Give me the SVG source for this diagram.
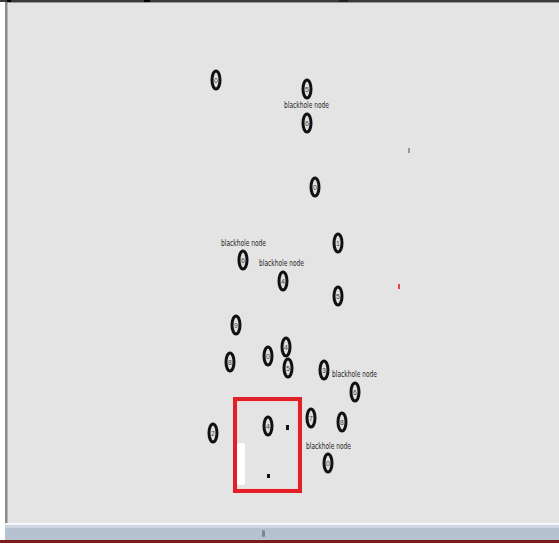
<svg xmlns="http://www.w3.org/2000/svg" width="559" height="544" viewBox="0 0 559 544">
<style>
.n{fill:#e0e0e0;stroke:#111;stroke-width:3}
.d{font-family:"Liberation Sans",Arial,sans-serif;font-size:7px;fill:#444;text-anchor:middle}
.bh{font-family:"DejaVu Sans Condensed","Liberation Sans",sans-serif;font-size:9.5px;fill:#1e1e1e}
</style>
<defs>
<g id="nd"><ellipse class="n" cx="0" cy="0" rx="4" ry="9"/></g>
</defs>
<rect x="0" y="0" width="559" height="544" fill="#ffffff"/>
<rect x="5" y="2" width="554" height="521" fill="#e4e4e4"/>
<rect x="0" y="0" width="559" height="2" fill="#3a3a3a"/>
<rect x="7" y="0" width="4" height="3" fill="#000"/>
<rect x="144" y="0" width="6" height="3" fill="#000"/>
<rect x="339" y="0" width="9" height="3" fill="#222"/>
<rect x="5" y="2" width="554" height="1" fill="#9a9a9a"/>
<rect x="5" y="2" width="2.5" height="522" fill="#8a8a8a"/>
<rect x="5" y="523" width="554" height="2" fill="#f4f6f8"/>
<rect x="5" y="525" width="554" height="15" fill="#b6c2d0"/>
<rect x="5" y="525" width="554" height="3" fill="#cdd6e0"/>
<rect x="262" y="530" width="3" height="7" rx="1.5" fill="#7a8594"/>
<rect x="0" y="540" width="559" height="3" fill="#7a1a1a"/>
<g id="connectors"/>
<g id="marks">
<rect x="408" y="148" width="2" height="5" fill="#9a9a9a"/>
<rect x="398" y="284" width="2" height="5" fill="#e04050"/>
</g>
<g id="selection">
<rect x="235" y="399" width="65" height="92" fill="none" stroke="#e01f26" stroke-width="4"/>
<rect x="237.5" y="401.5" width="60" height="87" fill="none" stroke="#f4d4d4" stroke-width="1"/>
<rect x="237" y="443" width="8" height="42" rx="2" fill="#ffffff"/>
<rect x="286" y="425" width="3" height="5" fill="#111"/>
<rect x="267" y="474" width="3" height="4" fill="#111"/>
</g>
<g id="n1"><use href="#nd" x="216" y="80"/><text class="d" x="216" y="82.5">0</text></g>
<g id="n2"><use href="#nd" x="307" y="89"/><text class="d" x="307" y="91.5">5</text></g>
<g id="n3"><use href="#nd" x="307" y="123"/><text class="d" x="307" y="125.5">6</text></g>
<g id="n4"><use href="#nd" x="315" y="187"/><text class="d" x="315" y="189.5">0</text></g>
<g id="n5"><use href="#nd" x="338" y="243"/><text class="d" x="338" y="245.5">1</text></g>
<g id="n6"><use href="#nd" x="243" y="260"/><text class="d" x="243" y="262.5">6</text></g>
<g id="n7"><use href="#nd" x="283" y="281"/><text class="d" x="283" y="283.5">4</text></g>
<g id="n8"><use href="#nd" x="338" y="296"/><text class="d" x="338" y="298.5">5</text></g>
<g id="n9"><use href="#nd" x="236" y="325"/><text class="d" x="236" y="327.5">9</text></g>
<g id="n10"><use href="#nd" x="230" y="362"/><text class="d" x="230" y="364.5">8</text></g>
<g id="n11"><use href="#nd" x="268" y="356"/><text class="d" x="268" y="358.5">0</text></g>
<g id="n12"><use href="#nd" x="286" y="347"/><text class="d" x="286" y="349.5">4</text></g>
<g id="n13"><use href="#nd" x="288" y="368"/><text class="d" x="288" y="370.5">5</text></g>
<g id="n14"><use href="#nd" x="324" y="370"/><text class="d" x="324" y="372.5">3</text></g>
<g id="n15"><use href="#nd" x="355" y="392"/><text class="d" x="355" y="394.5">6</text></g>
<g id="n16"><use href="#nd" x="213" y="433"/><text class="d" x="213" y="435.5">2</text></g>
<g id="n17"><use href="#nd" x="268" y="426"/><text class="d" x="268" y="428.5">4</text></g>
<g id="n18"><use href="#nd" x="311" y="418"/><text class="d" x="311" y="420.5">7</text></g>
<g id="n19"><use href="#nd" x="342" y="422"/><text class="d" x="342" y="424.5">8</text></g>
<g id="n20"><use href="#nd" x="328" y="463"/><text class="d" x="328" y="465.5">0</text></g>
<g id="labels">
<text class="bh" x="284" y="107.5" textLength="45" lengthAdjust="spacingAndGlyphs">blackhole node</text>
<text class="bh" x="221" y="245.5" textLength="45" lengthAdjust="spacingAndGlyphs">blackhole node</text>
<text class="bh" x="259" y="265.5" textLength="45" lengthAdjust="spacingAndGlyphs">blackhole node</text>
<text class="bh" x="332" y="376.5" textLength="45" lengthAdjust="spacingAndGlyphs">blackhole node</text>
<text class="bh" x="306" y="448.5" textLength="45" lengthAdjust="spacingAndGlyphs">blackhole node</text>
</g>
</svg>
